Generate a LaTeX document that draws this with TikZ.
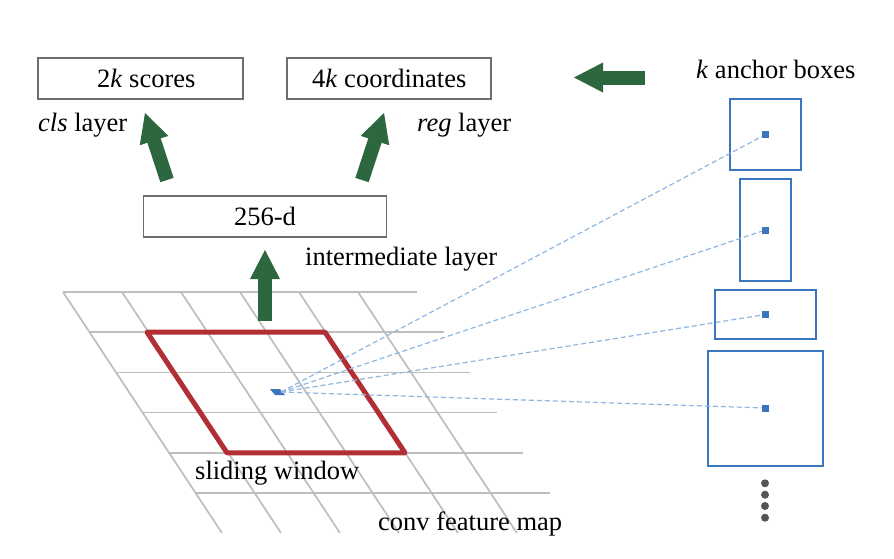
\documentclass[tikz,border=0pt]{standalone}
\usepackage{fontspec}
\setmainfont{Liberation Serif}
\usetikzlibrary{calc}
\definecolor{gridgray}{RGB}{190,190,190}
\definecolor{winred}{RGB}{176,46,52}
\definecolor{boxgray}{RGB}{110,110,110}
\definecolor{fatgreen}{RGB}{45,103,64}
\definecolor{anchorblue}{RGB}{58,118,190}
\definecolor{dashblue}{RGB}{145,182,224}
\definecolor{dotgray}{RGB}{85,85,85}
\newcommand{\fatarrowx}[2]{%
  \coordinate (#2-hb) at ($(#2)!29pt!(#1)$);
  \draw[fatshaft] (#1) -- ($(#2)!28pt!(#1)$);
  \fill[fatgreen] (#2) -- ($(#2-hb)!15pt!90:(#2)$) -- ($(#2-hb)!15pt!-90:(#2)$) -- cycle;}
\begin{document}
\begin{tikzpicture}[x=1pt,y=-1pt,
  txt/.style={font=\fontsize{26.5}{30}\selectfont, inner sep=0pt},
  layerbox/.style={draw=boxgray, line width=1.9pt, fill=white, inner sep=0pt, font=\fontsize{26.5}{30}\selectfont},
  gridline/.style={gridgray, line width=1.7pt},
  window/.style={winred, line width=5pt, line join=round},
  anchorbox/.style={draw=anchorblue, line width=2pt, inner sep=0pt},
  anchorpt/.style={fill=anchorblue, inner sep=0pt, minimum size=7pt},
  ray/.style={dashblue, line width=1.2pt, dash pattern=on 5pt off 3pt},
  dotnode/.style={circle, fill=dotgray, inner sep=0pt, minimum size=8pt},
  fatshaft/.style={fatgreen, line width=14pt}]
\useasboundingbox (0,0) rectangle (894,558);
\fill[white] (0,0) rectangle (894,558);
% grid of the conv feature map
\foreach \i in {0,...,5} {
  \pgfmathsetmacro\yy{292+40.2*\i}
  \pgfmathsetmacro\dx{0.66*40.2*\i}
  \draw[gridline] ({63+\dx},\yy) -- ({417+\dx},\yy);
}
\foreach \j in {0,...,5}
  \draw[gridline] ({63+59*\j},292) -- ({63+59*\j+159},533);
% sliding window
\draw[window] (147,332.2) -- (325,332.2) -- (405,452.8) -- (227,452.8) -- cycle;
% center position
\fill[anchorblue] (270,389) -- (280,389) -- (285,395) -- (275,395) -- cycle;
\coordinate (src) at (281,392);
% anchor boxes
\node[anchorbox, minimum width=71pt, minimum height=71pt] (b1) at (765.5,134.5) {};
\node[anchorbox, minimum width=51pt, minimum height=102pt] (b2) at (765.5,230) {};
\node[anchorbox, minimum width=101pt, minimum height=49pt] (b3) at (765.5,314.5) {};
\node[anchorbox, minimum width=115pt, minimum height=115pt] (b4) at (765.5,408) {};
\node[anchorpt] (c1) at (b1.center) {};
\node[anchorpt] (c2) at (b2.center) {};
\node[anchorpt] (c3) at (b3.center) {};
\node[anchorpt] (c4) at (b4.center) {};
\draw[ray] (src) -- (c1);
\draw[ray] (src) -- (c2);
\draw[ray] (src) -- (c3);
\draw[ray] (src) -- (c4);
\node[dotnode] (d1) at (765,483.3) {};
\node[dotnode] (d2) at (765,494.7) {};
\node[dotnode] (d3) at (765,506) {};
\node[dotnode] (d4) at (765,517.7) {};
% layer boxes
\node[layerbox, minimum width=205pt, minimum height=41pt] (cls) at (140.3,78.2) {\hspace*{12pt}2\textit{k} scores};
\node[layerbox, minimum width=204pt, minimum height=41pt] (reg) at (389.3,78.2) {4\textit{k} coordinates};
\node[layerbox, minimum width=243pt, minimum height=41pt] (mid) at (265,216.7) {256-d};
% labels
\node[txt, anchor=base west] (clsl) at (38,131) {\textit{cls} layer};
\node[txt, anchor=base west] (regl) at (417,131) {\textit{reg} layer};
\node[txt, anchor=base west] (intl) at (305,265.5) {intermediate layer};
\node[txt, anchor=base west] (slide) at (195,479) {sliding window};
\node[txt, anchor=base west] (convl) at (378,530) {conv feature map};
\node[txt, anchor=base west] (kab) at (696,78) {\textit{k} anchor boxes};
% fat arrows
\coordinate (m0) at (265,321); \coordinate (m1) at (265,250);
\coordinate (l0) at (167,180); \coordinate (l1) at (145,113);
\coordinate (r0) at (362,180); \coordinate (r1) at (384,113);
\coordinate (h0) at (645,77.5); \coordinate (h1) at (574,77.5);
\fatarrowx{m0}{m1}
\fatarrowx{l0}{l1}
\fatarrowx{r0}{r1}
\fatarrowx{h0}{h1}
\end{tikzpicture}
\end{document}
